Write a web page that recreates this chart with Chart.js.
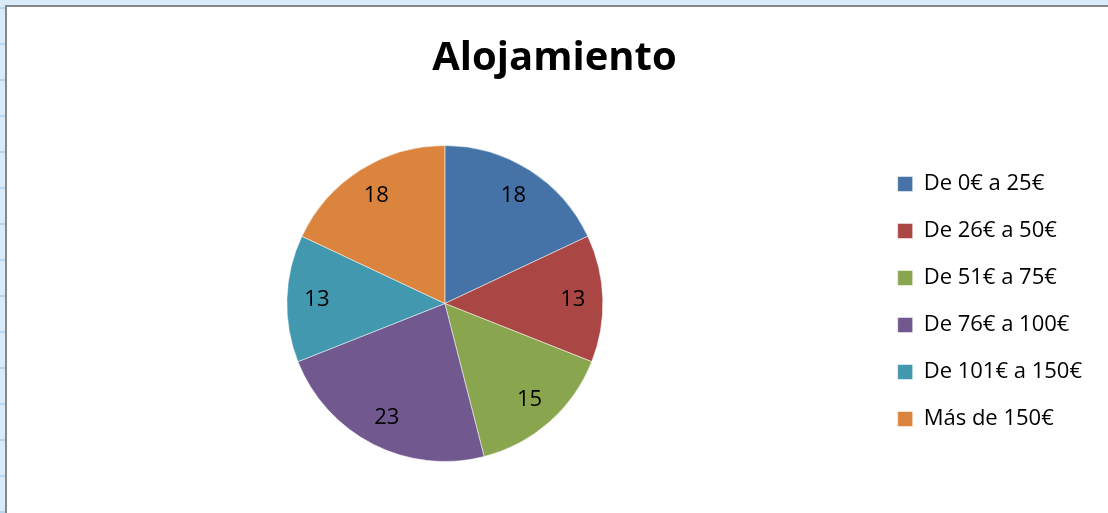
<!DOCTYPE html>
<html>
<head>
<meta charset="utf-8">
<script src="https://cdn.jsdelivr.net/npm/chart.js@4"></script>
<style>
  html, body { margin: 0; padding: 0; }
  body {
    width: 1108px; height: 513px; overflow: hidden;
    background: #d9ebf9;
    background-image:
      repeating-linear-gradient(0deg, rgba(150,200,235,0.55) 0 2px, transparent 2px 36px);
  }
  #frame {
    position: absolute; left: 5px; top: 5px;
    width: 1103px; height: 508px;
    border-left: 2px solid #878787; border-top: 2px solid #878787;
    background: #ffffff;
  }
  #wrap { position: absolute; left: 0; top: 0; width: 1101px; height: 506px; }
</style>
</head>
<body>
<div id="frame"><div id="wrap"><canvas id="chart"></canvas></div></div>
<script>
// Alojamiento - precio por noche
const categories = ['De 0€ a 25€', 'De 26€ a 50€', 'De 51€ a 75€', 'De 76€ a 100€', 'De 101€ a 150€', 'Más de 150€'];
const values = [18, 13, 15, 23, 13, 18];
const sliceColors = ['#4572a7', '#aa4643', '#89a54e', '#71588f', '#4198af', '#db843d'];

const FONT = '"Open Sans", Lato, sans-serif';

// draw the value inside each slice, a bit toward the rim
const sliceLabels = {
    id: 'sliceLabels',
    afterDatasetsDraw(chart) {
        const ctx = chart.ctx;
        const meta = chart.getDatasetMeta(0);
        ctx.save();
        ctx.font = '22px ' + FONT;
        ctx.fillStyle = '#000';
        ctx.textAlign = 'center';
        ctx.textBaseline = 'middle';
        meta.data.forEach((arc, i) => {
            const p = arc.getProps(['x', 'y', 'startAngle', 'endAngle', 'outerRadius'], true);
            const mid = (p.startAngle + p.endAngle) / 2;
            const r = p.outerRadius * 0.81;
            ctx.fillText(String(chart.data.datasets[0].data[i]), p.x + Math.cos(mid) * r, p.y + Math.sin(mid) * r);
        });
        ctx.restore();
    }
};

new Chart(document.getElementById('chart'), {
    type: 'pie',
    data: {
        labels: categories,
        datasets: [{
            data: values,
            backgroundColor: sliceColors,
            borderColor: 'rgba(255,255,255,0.5)',
            borderWidth: 1
        }]
    },
    options: {
        responsive: true,
        maintainAspectRatio: false,
        animation: false,
        layout: { padding: { top: 0, bottom: 51, left: 10, right: 16 } },
        plugins: {
            title: {
                display: true,
                text: 'Alojamiento',
                color: '#000',
                font: { family: FONT, size: 40, weight: 'bold', lineHeight: 1.2 },
                padding: { top: 28, bottom: 62 }
            },
            legend: {
                position: 'right',
                title: {
                    display: true,
                    text: ' ',
                    font: { size: 10, lineHeight: 1 },
                    padding: { top: 124, bottom: 0 }
                },
                labels: {
                    color: '#000',
                    font: { family: FONT, size: 22 },
                    boxWidth: 15,
                    boxHeight: 15,
                    padding: 25
                }
            },
            tooltip: { enabled: false }
        }
    },
    plugins: [sliceLabels]
});
</script>
</body>
</html>
